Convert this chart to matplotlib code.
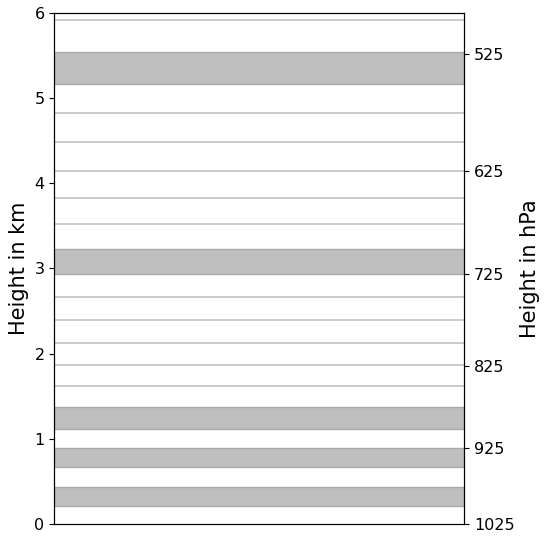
import matplotlib
matplotlib.use("Agg")
import matplotlib.pyplot as plt

# single layer boundaries (km)
lines_km = [5.913, 4.820, 4.480, 4.144, 3.832, 3.527, 2.664, 2.394, 2.121, 1.867, 1.621]
# shaded layers (bottom, top) in km
band_bottom = [5.164, 2.935, 1.117, 0.668, 0.218]
band_top = [5.539, 3.230, 1.375, 0.891, 0.437]
# pressure ticks on right axis and their heights
hpa_labels = ["525", "625", "725", "825", "925", "1025"]
hpa_heights = [5.52, 4.137, 2.933, 1.859, 0.894, 0.0]


def main():
    fig = plt.figure(figsize=(5.5, 5.42), dpi=100)
    ax = fig.add_axes([0.0987, 0.0327, 0.745, 0.944])

    for y in lines_km:
        ax.axhline(y, color="#c8c8c8", lw=1.3, zorder=1)
    for b, t in zip(band_bottom, band_top):
        ax.axhspan(b, t, facecolor="#bfbfbf", edgecolor="#a9a9a9", lw=1.0, zorder=2)

    ax.set_ylim(0, 6)
    ax.set_xlim(0, 1)
    ax.set_xticks([])
    ax.set_yticks(range(7))
    ax.tick_params(axis="y", labelsize=11.5)
    ax.set_ylabel("Height in km", fontsize=15)

    ax2 = ax.twinx()
    ax2.set_ylim(0, 6)
    ax2.set_yticks(hpa_heights)
    ax2.set_yticklabels(hpa_labels)
    ax2.tick_params(axis="y", labelsize=11.5)
    ax2.set_ylabel("Height in hPa", fontsize=15)

    fig.savefig("out.png", dpi=100)


if __name__ == "__main__":
    main()
